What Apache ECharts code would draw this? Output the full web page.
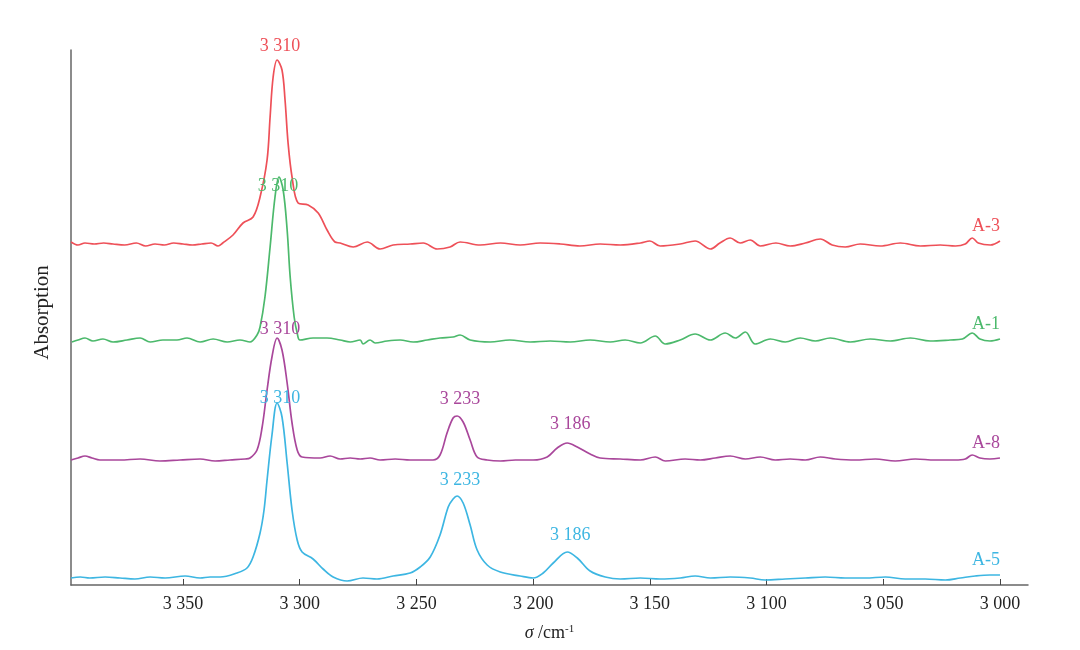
<!DOCTYPE html>
<html>
<head>
<meta charset="utf-8">
<script src="https://cdn.jsdelivr.net/npm/echarts@6/dist/echarts.min.js"></script>
<style>html,body{margin:0;padding:0;background:#fff}#c{width:1080px;height:650px}</style>
</head>
<body>
<div id="c"></div>
<script>
// Wavenumber (cm-1) vs. absorption (arbitrary units, stacked with offsets)
const xTicks = [3000, 3050, 3100, 3150, 3200, 3250, 3300, 3350];

const seriesNames = ['A-3', 'A-1', 'A-8', 'A-5'];

const a3 = [[3398,343],[3395,340],[3392,342],[3388,341],[3384,342],[3380,341],[3375,340],[3370,342],[3366,339],[3362,341],[3358,340],[3354,342],[3350,341],[3346,340],[3342,341],[3338,342],[3335,339],[3333,342],[3328.6,350],[3324.3,362],[3320,368],[3317,388],[3314,425],[3312.7,468],[3311.4,508],[3309.7,525],[3307.6,515],[3306.3,485],[3305,442],[3303.3,408],[3300.7,382],[3296.4,380],[3292.1,372],[3288.3,355],[3284.9,343],[3282.7,342],[3277.1,338],[3271.1,343],[3265.6,336],[3260,340],[3252.7,341],[3247.1,342],[3241.1,336],[3235.6,338],[3231.3,343],[3222.7,340],[3214,342],[3205.6,340],[3197,342],[3188.4,341],[3180,339],[3171.3,341],[3162.7,340],[3154,342],[3150,344],[3145.6,339],[3137,341],[3130.6,344],[3124,336],[3120,342],[3115.6,347],[3111.3,342],[3107,345],[3102.7,339],[3096,342],[3089.9,339],[3083.4,342],[3077,346],[3071.9,340],[3066.3,338],[3059.9,341],[3051.3,339],[3042.7,342],[3034.1,339],[3025.6,340],[3019.1,339],[3014.9,341],[3011.9,347],[3009.3,342],[3004.1,340],[3000,344]];

const a1 = [[3397.6,243],[3395,245],[3392,247],[3388.6,244],[3384.3,246],[3380,243],[3374,245],[3368.4,247],[3364.1,243],[3358.6,245],[3352.6,245],[3348.3,247],[3342.7,243],[3337.1,246],[3331.1,243],[3325.6,245],[3321.3,243],[3318.3,250],[3317,258],[3314.9,288],[3312.7,338],[3310.6,388],[3308.9,408],[3307.1,395],[3305.4,355],[3304.1,308],[3302.4,268],[3301.1,252],[3299.9,245],[3294.3,247],[3288.3,247],[3282.7,245],[3278.4,243],[3274.1,245],[3272.9,241],[3269.9,245],[3267.7,242],[3262.6,244],[3257,245],[3251.4,243],[3245.4,245],[3239.9,247],[3234.3,248],[3231.3,250],[3227,245],[3218.4,243],[3210,245],[3201.3,243],[3192.7,244],[3184.1,243],[3175.6,245],[3167,243],[3160.6,245],[3154.1,242],[3147.7,249],[3143.4,241],[3137,245],[3130.6,251],[3124.1,245],[3117.7,252],[3113.4,247],[3109.1,253],[3104.9,241],[3098.4,246],[3092,243],[3085.6,247],[3079.1,244],[3072.7,247],[3064.1,243],[3055.6,246],[3047,244],[3038.4,247],[3029.9,244],[3021.3,245],[3016.1,246],[3011.9,252],[3008.6,246],[3004.3,244],[3000,246]];

const a8 = [[3398,125],[3395,127],[3392,129],[3389,127],[3385.6,125],[3377,125],[3368.4,126],[3359.9,124],[3351.3,125],[3342.7,126],[3336.3,124],[3329.9,125],[3323.4,126],[3321.3,127],[3318.3,135],[3316.1,158],[3314,195],[3311.9,228],[3309.7,247],[3307.6,235],[3305.4,202],[3303.3,162],[3301.1,135],[3299,128],[3291.3,127],[3287,129],[3282.7,126],[3278.4,127],[3274.1,126],[3269.9,127],[3265.6,125],[3259.1,126],[3252.7,125],[3246.3,125],[3242.9,125],[3239.9,130],[3236.9,152],[3234.3,167],[3232.6,169],[3230,163],[3227,145],[3224,128],[3219.7,125],[3214,124],[3207.6,125],[3200,125],[3194,128],[3189.7,137],[3185.4,142],[3181.1,138],[3175.6,131],[3171.3,127],[3162.7,126],[3154.1,125],[3147.7,128],[3143.4,124],[3134.9,126],[3128.4,125],[3122,127],[3115.6,129],[3109.1,126],[3102.7,128],[3096.3,125],[3089.9,126],[3083.4,125],[3077,128],[3070.6,126],[3062,125],[3053.4,126],[3044.9,124],[3036.3,126],[3027.9,125],[3019.3,125],[3014.9,126],[3011.9,130],[3008.6,127],[3004.3,126],[3000,127]];

const a5 = [[3398,7],[3394,8],[3390,7],[3383.4,8],[3377,7],[3370.6,6],[3364.1,8],[3357.7,7],[3349.1,9],[3342.7,7],[3338.4,8],[3334.1,8],[3326.9,12],[3322.6,17],[3320,28],[3317,52],[3315.3,75],[3314,105],[3311.9,150],[3309.7,182],[3307.6,168],[3305.4,122],[3303.3,75],[3301.1,45],[3299,33],[3294.3,26],[3290,16],[3285.7,8],[3279.7,4],[3272.9,7],[3266.9,6],[3260,9],[3252.7,12],[3248.4,18],[3244.1,28],[3239.9,50],[3236.4,78],[3234.3,86],[3232.6,89],[3230,82],[3227,60],[3224,35],[3219.7,20],[3214.1,13],[3205.6,9],[3200,7],[3195.7,12],[3191.4,22],[3185.4,33],[3181.1,27],[3175.6,14],[3169.1,8],[3162.7,6],[3154.1,7],[3145.6,6],[3137,7],[3130.6,9],[3124,7],[3115.6,8],[3107,7],[3100.6,5],[3092,6],[3083.4,7],[3074.9,8],[3066.3,7],[3057.7,7],[3049.1,8],[3040.6,6],[3032,6],[3023.4,5],[3017,7],[3010.6,9],[3004.3,10],[3000,10]];

// peak positions labelled for each series (cm-1)
const a3Peaks = [3310];
const a1Peaks = [3310];
const a8Peaks = [3310, 3233, 3186];
const a5Peaks = [3310, 3233, 3186];

const colors = ['#ee5058', '#4cb96c', '#a9479b', '#3db6e2'];
const FONT = '"Liberation Serif", "DejaVu Serif", serif';

function fmt(v) { const s = String(Math.round(v)); return s[0] + ' ' + s.slice(1); }
function nearest(data, wn) {
  let best = data[0];
  for (const p of data) if (Math.abs(p[0] - wn) < Math.abs(best[0] - wn)) best = p;
  return best;
}
// peak label gaps (style)
const gapMap = { 'A-3': [5], 'A-1': [2], 'A-8': [0, 8, 10], 'A-5': [-4, 7, 8] };

function makeSeries(name, data, peaks, color) {
  const g = gapMap[name];
  const mp = peaks.map((wn, i) => ({
    coord: nearest(data, wn),
    value: fmt(wn),
    label: { distance: g[i], offset: [3, 0] }
  }));
  const last = data[data.length - 1];
  mp.push({ coord: last, value: name, label: { distance: 6, offset: [-14, 0] } });
  return {
    type: 'line', name, data, showSymbol: false, smooth: 0.35,
    lineStyle: { color, width: 1.7 }, itemStyle: { color }, z: 2,
    markPoint: {
      symbol: 'circle', symbolSize: 0, silent: true, animation: false,
      label: { show: true, position: 'top', color, fontFamily: FONT, fontSize: 18, formatter: p => p.value },
      data: mp
    }
  };
}

const chart = echarts.init(document.getElementById('c'), null, { renderer: 'canvas' });
chart.setOption({
  animation: false,
  grid: { left: 71, right: 52, top: 50, bottom: 65 },
  xAxis: {
    type: 'value', inverse: true, min: 2988, max: 3398,
    axisLine: { lineStyle: { color: '#666', width: 1.5 } },
    axisTick: { show: true, inside: true, length: 6, customValues: xTicks, lineStyle: { color: '#444' } },
    axisLabel: { customValues: xTicks, formatter: fmt, color: '#222', fontFamily: FONT, fontSize: 18, margin: 10 },
    splitLine: { show: false },
    name: '{i|σ} /cm{s|-1}', nameLocation: 'middle', nameGap: 39,
    nameTextStyle: {
      color: '#222', fontFamily: FONT, fontSize: 18,
      rich: { i: { fontStyle: 'italic', fontFamily: FONT, fontSize: 18, color: '#222' },
              s: { fontSize: 11, fontFamily: FONT, color: '#222', verticalAlign: 'top', padding: [0, 0, 8, 0] } }
    }
  },
  yAxis: {
    type: 'value', min: 0, max: 535,
    axisLine: { show: true, lineStyle: { color: '#666', width: 1.5 } },
    axisTick: { show: false }, axisLabel: { show: false }, splitLine: { show: false },
    name: 'Absorption', nameLocation: 'middle', nameGap: 18, nameRotate: 90,
    nameTextStyle: { color: '#222', fontFamily: FONT, fontSize: 21, padding: [0, 0, 0, 10] }
  },
  series: [
    makeSeries(seriesNames[0], a3, a3Peaks, colors[0]),
    makeSeries(seriesNames[1], a1, a1Peaks, colors[1]),
    makeSeries(seriesNames[2], a8, a8Peaks, colors[2]),
    makeSeries(seriesNames[3], a5, a5Peaks, colors[3])
  ]
});
</script>
</body>
</html>
